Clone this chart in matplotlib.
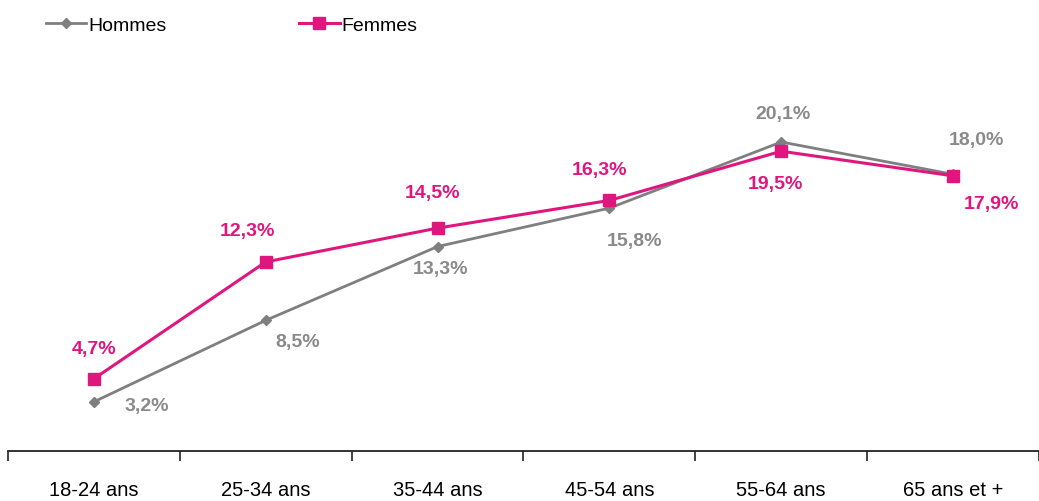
import matplotlib
matplotlib.use('Agg')
import matplotlib.pyplot as plt
import numpy as np

plt.rcParams['font.family'] = ['Liberation Sans', 'DejaVu Sans']

categories = ['18-24 ans', '25-34 ans', '35-44 ans', '45-54 ans', '55-64 ans', '65 ans et +']
hommes = [3.2, 8.5, 13.3, 15.8, 20.1, 18.0]
femmes = [4.7, 12.3, 14.5, 16.3, 19.5, 17.9]
hommes_lbl = ['3,2%', '8,5%', '13,3%', '15,8%', '20,1%', '18,0%']
femmes_lbl = ['4,7%', '12,3%', '14,5%', '16,3%', '19,5%', '17,9%']

# label offsets in pixels (dx, dy)
h_off = [(53, -4), (32, -21), (3, -22), (25, -32), (2, 29), (23, 35)]
f_off = [(0, 30), (-18, 31), (-5, 36), (-10, 31), (-6, -32), (38, -28)]

gris = '#7f7f7f'
rose = '#e0167f'

fig = plt.figure(figsize=(10.39, 5.02), dpi=100)
ax = fig.add_axes([8/1039, 50/502, 1031/1039, 392/502])

x = np.arange(len(categories))
ax.plot(x, hommes, color=gris, lw=2.0, marker='D', ms=5, label='Hommes')
ax.plot(x, femmes, color=rose, lw=2.2, marker='s', ms=8, label='Femmes')

for i in range(len(x)):
    ax.annotate(hommes_lbl[i], (x[i], hommes[i]), xytext=h_off[i], textcoords='offset pixels',
                ha='center', va='center', fontsize=14, color='#8a8a8a', fontweight='bold')
    ax.annotate(femmes_lbl[i], (x[i], femmes[i]), xytext=f_off[i], textcoords='offset pixels',
                ha='center', va='center', fontsize=14, color=rose, fontweight='bold')

ax.set_xlim(-0.5, len(categories) - 0.5)
ax.set_ylim(0, 25.5)
for s in ['top', 'right', 'left']:
    ax.spines[s].set_visible(False)
ax.spines['bottom'].set_linewidth(1.3)
ax.spines['bottom'].set_color('#222222')
ax.set_yticks([])
ax.set_xticks(np.arange(-0.5, len(categories)), minor=False)
ax.set_xticklabels([])
ax.tick_params(axis='x', direction='out', length=7, width=1.2, color='#222222')
ax.set_xticks(x, minor=True)
ax.set_xticklabels(categories, minor=True, fontsize=14.5)
ax.tick_params(axis='x', which='minor', length=0, pad=21)

fig.legend(loc='upper left', bbox_to_anchor=(0.027, 1.0), ncol=2, frameon=False,
           fontsize=14, columnspacing=6.8, handlelength=2.1, handletextpad=0.1)

plt.savefig('out.png', dpi=100)
plt.close()
